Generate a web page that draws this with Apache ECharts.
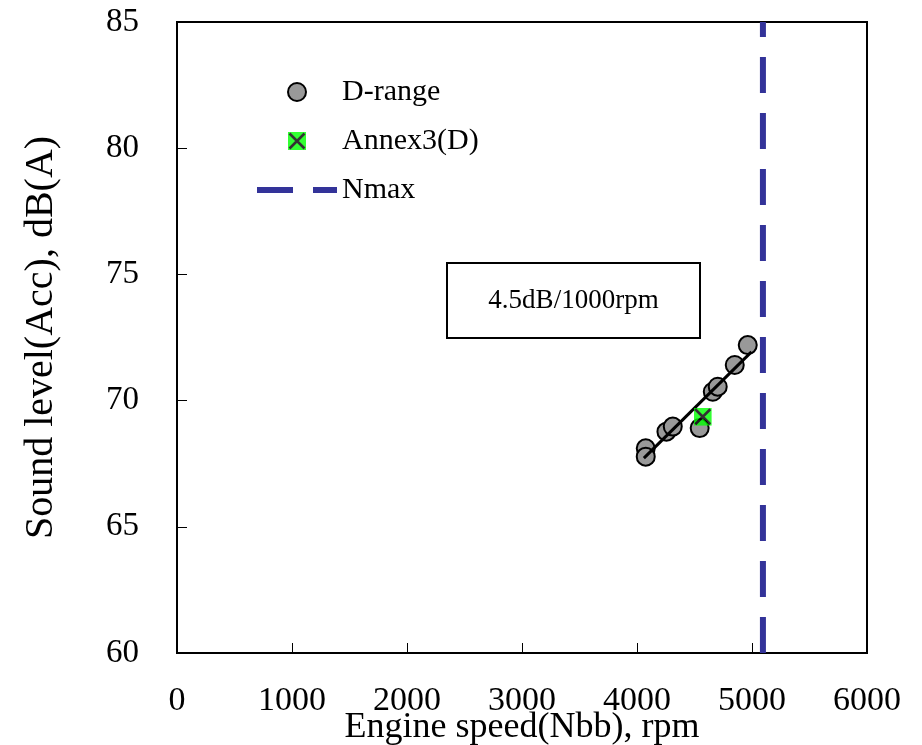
<!DOCTYPE html>
<html>
<head>
<meta charset="utf-8">
<script src="https://cdn.jsdelivr.net/npm/echarts@6/dist/echarts.min.js"></script>
<style>
  html, body { margin: 0; padding: 0; background: #fff; }
  #chart { width: 922px; height: 745px; }
</style>
</head>
<body>
<div id="chart"></div>
<script>
// Engine speed (rpm) and sound level dB(A) for the D-range runs
const dRangeSpeed = [4076, 4076, 4256, 4311, 4545, 4659, 4702, 4850, 4963];
const dRangeLevel = [68.11, 67.78, 68.77, 68.97, 68.91, 70.35, 70.55, 71.41, 72.20];

// Annex 3 reference point (D)
const annexSpeed = [4572];
const annexLevel = [69.36];

// Maximum engine speed
const nmaxSpeed = 5095;

// Regression slope in dB per 1000 rpm, and the speed span it is drawn over
const fitSlope = 4.5;
const fitSpan = [4060, 4995];

// Axis ranges
const xTicks = { min: 0, max: 6000, interval: 1000 };
const yTicks = { min: 60, max: 85, interval: 5 };

const FONT = 'Liberation Serif';

// Fit line anchored at the mean of the D-range points, with the stated slope
const meanX = dRangeSpeed.reduce((a, b) => a + b, 0) / dRangeSpeed.length;
const meanY = dRangeLevel.reduce((a, b) => a + b, 0) / dRangeLevel.length;
const fitLine = fitSpan.map(x => [x, meanY + fitSlope * (x - meanX) / 1000]);

const annexIcon = 'image://data:image/svg+xml;charset=utf-8,' + encodeURIComponent(
  "<svg xmlns='http://www.w3.org/2000/svg' width='18' height='18'>" +
  "<rect width='18' height='18' fill='#00ff00'/>" +
  "<path d='M1.5,1.5L16.5,16.5M16.5,1.5L1.5,16.5' stroke='#000' stroke-width='2.6'/></svg>");

// Two dashes, same rhythm as the dashed Nmax line
const nmaxIcon = 'path://M0,0h36v6h-36z M56,0h24v6h-24z';

const chart = echarts.init(document.getElementById('chart'), null, { renderer: 'canvas' });

chart.setOption({
  animation: false,
  backgroundColor: '#fff',
  grid: {
    left: 177, top: 22, right: 55, bottom: 92,
    outerBoundsMode: 'none',
    containLabel: false,
    show: true, borderColor: '#000', borderWidth: 2, backgroundColor: 'transparent'
  },
  legend: {
    orient: 'vertical',
    left: 252, top: 72,
    itemWidth: 80, itemHeight: 18, itemGap: 19,
    textStyle: { fontFamily: FONT, fontSize: 30, color: '#000' },
    data: [
      { name: 'D-range', icon: 'circle' },
      { name: 'Annex3(D)' },
      { name: 'Nmax', icon: nmaxIcon, itemStyle: { color: '#333399' } }
    ],
    selectedMode: false
  },
  xAxis: {
    type: 'value',
    min: xTicks.min, max: xTicks.max, interval: xTicks.interval,
    name: 'Engine speed(Nbb), rpm',
    nameLocation: 'middle', nameGap: 57,
    nameMoveOverlap: false,
    nameTextStyle: { fontFamily: FONT, fontSize: 36, color: '#000' },
    axisLine: { show: true, lineStyle: { color: '#000', width: 2 } },
    axisTick: { show: true, inside: true, length: 10, lineStyle: { color: '#000', width: 1 } },
    axisLabel: { fontFamily: FONT, fontSize: 34, color: '#000', margin: 31,
                 formatter: v => String(v) },
    splitLine: { show: false }
  },
  yAxis: {
    type: 'value',
    min: yTicks.min, max: yTicks.max, interval: yTicks.interval,
    name: 'Sound level(Acc), dB(A)',
    nameLocation: 'middle', nameGap: 116,
    nameMoveOverlap: false,
    nameTextStyle: { fontFamily: FONT, fontSize: 40, color: '#000' },
    axisLine: { show: true, lineStyle: { color: '#000', width: 2 } },
    axisTick: { show: true, inside: true, length: 10, lineStyle: { color: '#000', width: 1 } },
    axisLabel: { fontFamily: FONT, fontSize: 33, color: '#000', margin: 38,
                 formatter: v => String(v) },
    splitLine: { show: false }
  },
  graphic: [{
    type: 'group',
    left: 446, top: 262,
    children: [
      { type: 'rect', shape: { x: 0, y: 0, width: 253, height: 75 },
        style: { fill: '#fff', stroke: '#000', lineWidth: 2 } },
      { type: 'text', x: 126.5, y: 38,
        style: { text: '4.5dB/1000rpm', fontFamily: FONT, fontSize: 27, fill: '#000',
                 align: 'center', verticalAlign: 'middle' } }
    ]
  }],
  series: [
    {
      name: 'D-range',
      type: 'scatter',
      symbol: 'circle',
      symbolSize: 18,
      itemStyle: { color: '#999999', borderColor: '#000', borderWidth: 2, opacity: 1 },
      data: dRangeSpeed.map((x, i) => [x, dRangeLevel[i]]),
      z: 2
    },
    {
      name: 'fit',
      type: 'line',
      symbol: 'none',
      lineStyle: { color: '#000', width: 3 },
      data: fitLine,
      z: 3
    },
    {
      name: 'Annex3(D)',
      type: 'scatter',
      symbol: annexIcon,
      symbolSize: 18,
      itemStyle: { color: '#00ff00' },
      data: annexSpeed.map((x, i) => [x, annexLevel[i]]),
      z: 4
    },
    {
      name: 'Nmax',
      type: 'line',
      symbol: 'none',
      showSymbol: false,
      lineStyle: { color: '#333399', width: 6, type: [36, 20] },
      itemStyle: { color: '#333399' },
      data: [[nmaxSpeed, yTicks.min], [nmaxSpeed, yTicks.max]],
      z: 1
    }
  ]
});
</script>
</body>
</html>
